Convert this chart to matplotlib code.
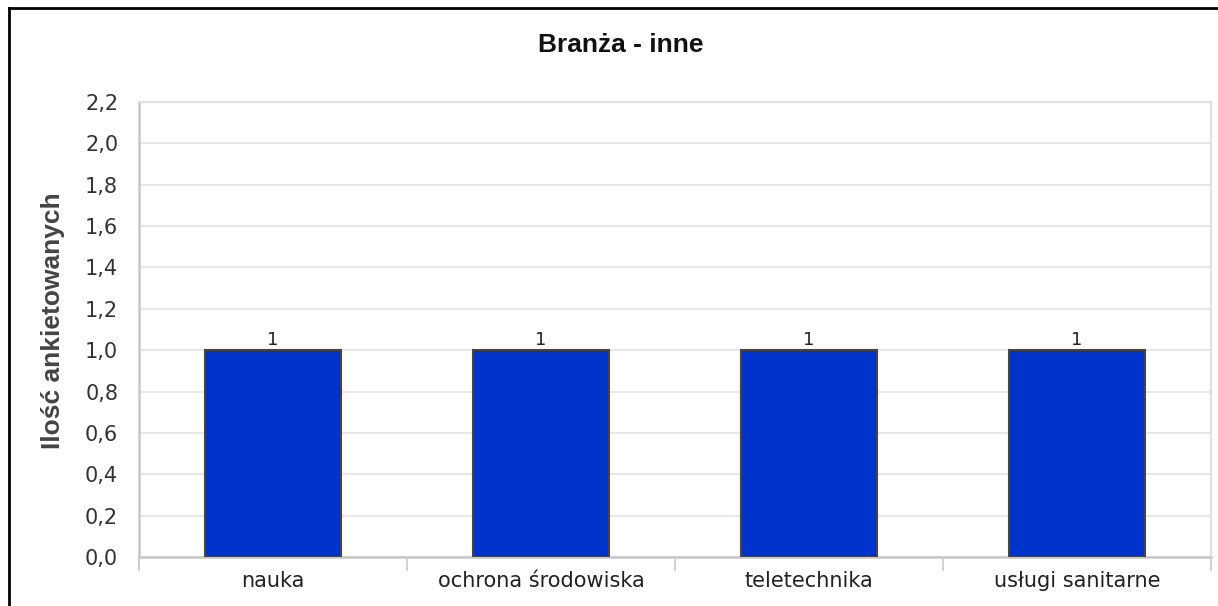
import numpy as np
import matplotlib.pyplot as plt
from matplotlib.lines import Line2D

# dane
kategorie = ['nauka', 'ochrona środowiska', 'teletechnika', 'usługi sanitarne']
wartosci = [1, 1, 1, 1]
y_ticks = [0.0, 0.2, 0.4, 0.6, 0.8, 1.0, 1.2, 1.4, 1.6, 1.8, 2.0, 2.2]

W, H = 1218, 606
fig = plt.figure(figsize=(W / 100, H / 100), dpi=100)
fig.patch.set_facecolor('white')

# obszar wykresu w pikselach
left, right, top, bottom = 139, 1211, 102, 557
ax = fig.add_axes([left / W, 1 - bottom / H, (right - left) / W, (bottom - top) / H])

x = np.arange(len(kategorie))
ax.bar(x, wartosci, width=0.505, color='#0033cc', edgecolor='#444444',
       linewidth=1.5, zorder=3)
for xi, v in zip(x, wartosci):
    ax.text(xi, v + 0.005, str(v), ha='center', va='bottom', fontsize=13,
            color='#222222', family='DejaVu Sans')

ax.set_xlim(-0.5, len(kategorie) - 0.5)
ax.set_ylim(0, 2.2)
ax.set_yticks(y_ticks)
ax.set_yticklabels([('%.1f' % t).replace('.', ',') for t in y_ticks],
                   fontsize=15, color='#333333', family='DejaVu Sans')
ax.yaxis.grid(True, color='#e8e8e8', linewidth=1.5, zorder=0)
ax.set_axisbelow(True)

# podzialki miedzy kategoriami
ax.set_xticks(np.arange(len(kategorie) + 1) - 0.5)
ax.set_xticklabels([])
ax.set_xticks(x, minor=True)
ax.set_xticklabels(kategorie, minor=True, fontsize=15, color='#222222',
                   family='DejaVu Sans')
ax.tick_params(axis='x', which='major', length=10, color='#cccccc', width=1.2)
ax.tick_params(axis='x', which='minor', length=0, pad=10)
ax.tick_params(axis='y', length=0, pad=15)

for s in ['top', 'right']:
    ax.spines[s].set_color('#e0e0e0')
    ax.spines[s].set_linewidth(1.5)
for s in ['left', 'bottom']:
    ax.spines[s].set_color('#c8c8c8')
    ax.spines[s].set_linewidth(1.8)

# lewa os przedluzona w dol
fig.add_artist(Line2D([left / W, left / W], [1 - bottom / H, 1 - 567 / H],
                      color='#cccccc', linewidth=1.2))

fig.text(53 / W, 1 - 321 / H, 'Ilość ankietowanych', rotation=90,
         ha='center', va='center', fontsize=19, fontweight='bold',
         color='#444444', family='Liberation Sans')
fig.text(621 / W, 1 - 45 / H, 'Branża - inne', ha='center', va='center',
         fontsize=19, fontweight='bold', color='#111111', family='Liberation Sans')

# ramka zewnetrzna (gora i lewo)
fig.add_artist(Line2D([9 / W, 9 / W], [0, 1 - 8 / H], color='black', linewidth=2))
fig.add_artist(Line2D([9 / W, 1], [1 - 8 / H, 1 - 8 / H], color='black', linewidth=2))

fig.savefig('out.png', dpi=100)
